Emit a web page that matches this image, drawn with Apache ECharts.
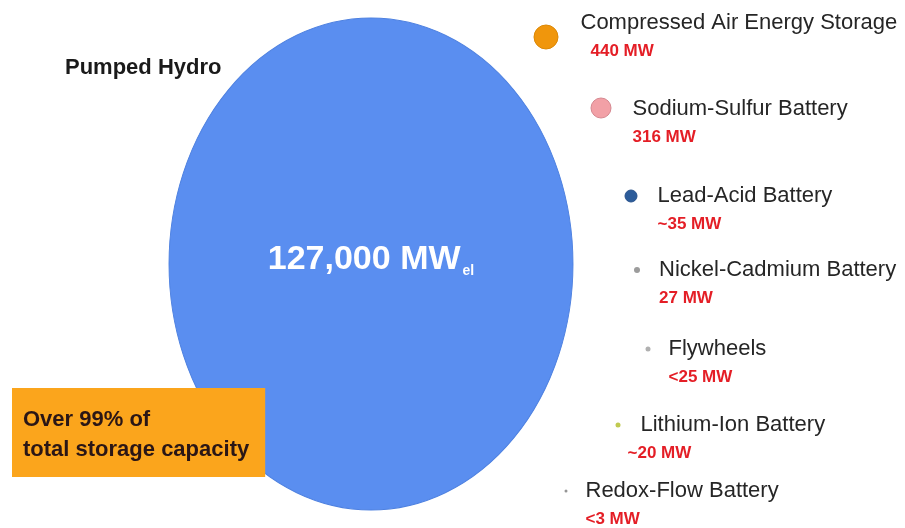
<!DOCTYPE html>
<html>
<head>
<meta charset="utf-8">
<script src="https://cdn.jsdelivr.net/npm/echarts@6/dist/echarts.min.js"></script>
<style>
html,body{margin:0;padding:0;background:#ffffff;}
#chart{width:905px;height:528px;}
</style>
</head>
<body>
<div id="chart"></div>
<script>
// ---- Data ----
const categories = ['Compressed Air Energy Storage', 'Sodium-Sulfur Battery', 'Lead-Acid Battery', 'Nickel-Cadmium Battery', 'Flywheels', 'Lithium-Ion Battery', 'Redox-Flow Battery'];
const capacityMW = [440, 316, 35, 27, 25, 20, 3];
const capacityLabels = ['440 MW', '316 MW', '~35 MW', '27 MW', '<25 MW', '~20 MW', '<3 MW'];
const pumpedHydroName = 'Pumped Hydro';
const pumpedHydroMW = 127000;
const pumpedHydroLabel = '127,000 MW';
const pumpedHydroUnitSub = 'el';
const shareNote = ['Over 99% of', 'total storage capacity'];

// ---- Layout (positions in a 905 x 528 layout space, sizes, styles) ----
const layoutX = [546, 601, 631, 637, 648, 618, 566];
const layoutY = [37, 108, 196, 270, 349, 425, 491];
const markerSize = [24, 20, 12, 6, 5, 5, 3];
const markerColor = ['#f0960c', '#f2a0a6', '#2c5c9a', '#9c9c9c', '#b0b0b0', '#c0ca50', '#959595'];
const markerBorder = ['#dc8806', '#d68890', '#28528c', '#9c9c9c', '#b0b0b0', '#c0ca50', '#959595'];
const labelDistance = [22, 21, 20, 19, 18, 7, 18];
const labelDy = [0, 15, 14, 14, 14, 14, 14];
const nameIndent = [0, 0, 0, 0, 0, 13, 0];
const valueIndent = [10, 0, 0, 0, 0, 0, 0];
const hydroX = 371, hydroY = 264, hydroW = 404, hydroH = 492;

const chart = echarts.init(document.getElementById('chart'), null, {renderer: 'canvas'});

const FONT = 'Liberation Sans, Arial, sans-serif';

const smallData = categories.map((name, i) => ({
  name: name,
  value: [layoutX[i], layoutY[i], capacityMW[i]],
  symbolSize: markerSize[i],
  itemStyle: {color: markerColor[i], borderColor: markerBorder[i], borderWidth: markerSize[i] > 10 ? 1 : 0, opacity: 1},
  label: {
    show: true,
    position: 'right',
    distance: labelDistance[i],
    offset: [0, labelDy[i]],
    formatter: '{n|' + name + '}\n{v|' + capacityLabels[i] + '}',
    rich: {
      n: {fontFamily: FONT, fontSize: 22, color: '#262626', lineHeight: 29, padding: [0, 0, 0, nameIndent[i]]},
      v: {fontFamily: FONT, fontSize: 17, fontWeight: 'bold', color: '#e41e26', lineHeight: 29, padding: [0, 0, 0, valueIndent[i]]}
    }
  }
}));

const option = {
  backgroundColor: '#ffffff',
  animation: false,
  title: [
    {
      text: pumpedHydroName,
      left: 65, top: 57,
      padding: 0,
      textStyle: {fontFamily: FONT, fontSize: 22, fontWeight: 'bold', color: '#1a1a1a'}
    },
    {
      text: shareNote.join('\n'),
      left: 12, top: 388,
      padding: [17, 16, 12, 11],
      backgroundColor: '#fba51c',
      z: 10,
      textStyle: {fontFamily: FONT, fontSize: 22, fontWeight: 'bold', color: '#2a1616', lineHeight: 30}
    }
  ],
  grid: {left: 0, right: 0, top: 0, bottom: 0},
  xAxis: {type: 'value', min: 0, max: 905, show: false},
  yAxis: {type: 'value', min: 0, max: 528, inverse: true, show: false},
  series: [
    {
      type: 'scatter',
      z: 2,
      data: [{
        name: pumpedHydroName,
        value: [hydroX, hydroY, pumpedHydroMW],
        symbolSize: [hydroW, hydroH],
        itemStyle: {color: '#5a8ef0', borderColor: '#4d80e0', borderWidth: 1, opacity: 1},
        label: {
          show: true,
          position: 'inside',
          offset: [0, -4],
          formatter: '{a|' + pumpedHydroLabel + '}{b|' + pumpedHydroUnitSub + '}',
          rich: {
            a: {fontFamily: FONT, fontSize: 34, fontWeight: 'bold', color: '#ffffff', lineHeight: 36},
            b: {fontFamily: FONT, fontSize: 14, fontWeight: 'bold', color: '#ffffff', lineHeight: 14, verticalAlign: 'bottom', padding: [0, 0, 0, 2]}
          }
        }
      }],
      silent: true
    },
    {
      type: 'scatter',
      z: 3,
      data: smallData,
      silent: true
    }
  ]
};
chart.setOption(option);
</script>
</body>
</html>
